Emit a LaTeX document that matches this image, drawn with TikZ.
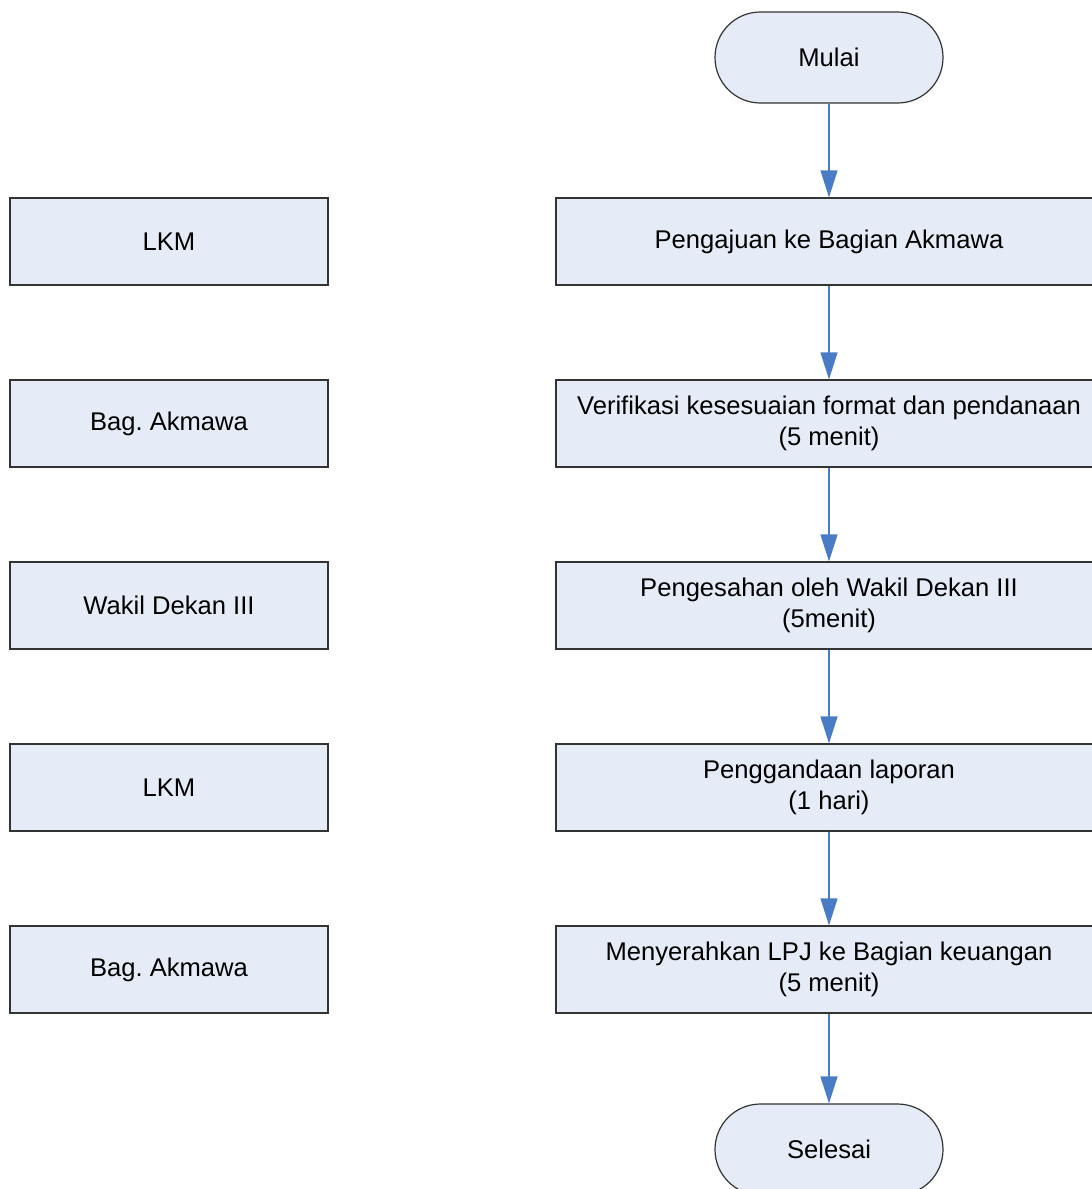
\documentclass[tikz,border=0pt]{standalone}
\usepackage{fontspec}
\setmainfont{Liberation Sans}
\frenchspacing
\usetikzlibrary{arrows.meta}
\definecolor{boxfill}{HTML}{E6ECF7}
\definecolor{boxline}{HTML}{333333}
\definecolor{arrowblue}{HTML}{4A7CC6}
\tikzset{
  procbox/.style={draw=boxline, fill=boxfill, line width=0.6pt, rectangle,
    minimum width=273pt, minimum height=43.5pt, inner sep=0pt, align=center,
    font=\fontsize{12.8}{15.5}\selectfont},
  rolebox/.style={draw=boxline, fill=boxfill, line width=0.6pt, rectangle,
    minimum width=159pt, minimum height=43.5pt, inner sep=0pt, align=center,
    font=\fontsize{12.8}{15.5}\selectfont},
  termbox/.style={draw=boxline, fill=boxfill, line width=0.6pt, rectangle,
    rounded corners=22.7pt,
    minimum width=114pt, minimum height=45.5pt, inner sep=0pt, align=center,
    font=\fontsize{12.8}{15.5}\selectfont},
  flow/.style={draw=arrowblue, line width=0.6pt,
    -{Triangle[length=13.5pt,width=8.5pt]}, color=arrowblue}
}
\begin{document}
\begin{tikzpicture}[x=0.5pt,y=-0.5pt]
\useasboundingbox (0,0) rectangle (1092,1189);
\clip (0,0) rectangle (1092,1189);
\node[termbox] (mulai) at (829,57.5) {Mulai};
\node[procbox] (p1) at (829,241.5) {Pengajuan ke Bagian Akmawa};
\node[procbox] (p2) at (829,423.5) {Verifikasi kesesuaian format dan pendanaan\\(5 menit)};
\node[procbox] (p3) at (829,605.5) {Pengesahan oleh Wakil Dekan III\\(5menit)};
\node[procbox] (p4) at (829,787.5) {Penggandaan laporan\\(1 hari)};
\node[procbox] (p5) at (829,969.5) {Menyerahkan LPJ ke Bagian keuangan\\(5 menit)};
\node[termbox] (selesai) at (829,1149.5) {Selesai};
\node[rolebox] (r1) at (169,241.5) {LKM};
\node[rolebox] (r2) at (169,423.5) {Bag. Akmawa};
\node[rolebox] (r3) at (169,605.5) {Wakil Dekan III};
\node[rolebox] (r4) at (169,787.5) {LKM};
\node[rolebox] (r5) at (169,969.5) {Bag. Akmawa};
\draw[flow] (mulai) -- (p1);
\draw[flow] (p1) -- (p2);
\draw[flow] (p2) -- (p3);
\draw[flow] (p3) -- (p4);
\draw[flow] (p4) -- (p5);
\draw[flow] (p5) -- (selesai);
\end{tikzpicture}
\end{document}
